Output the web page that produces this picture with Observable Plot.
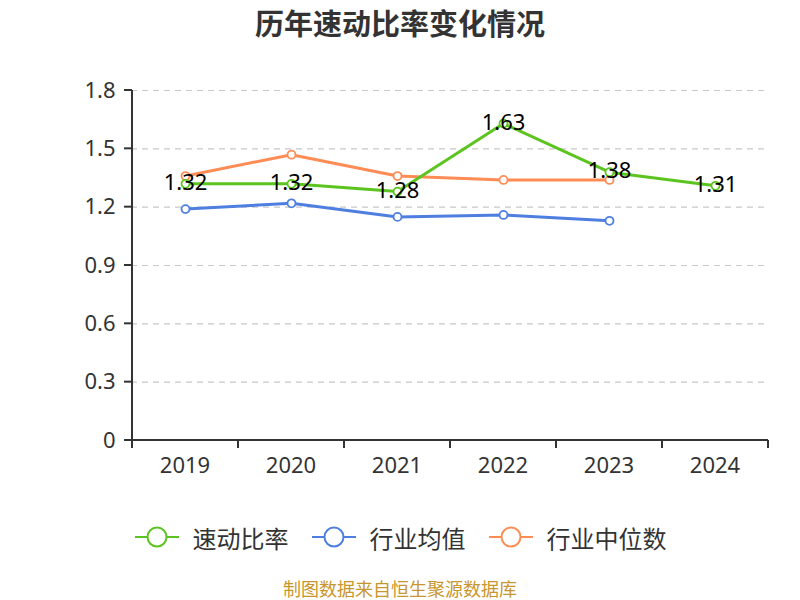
<!DOCTYPE html>
<html>
<head>
<meta charset="utf-8">
<script src="https://cdn.jsdelivr.net/npm/d3@7"></script>
<script src="https://cdn.jsdelivr.net/npm/@observablehq/plot@0.6"></script>
<style>
  body { margin: 0; background: #fff; font-family: "Noto Sans CJK SC", "Noto Sans", sans-serif; }
  #title { height: 50px; line-height: 44px; text-align: center; font-size: 29px; font-weight: bold; color: #333; }
  #legend { display: flex; justify-content: center; align-items: center; height: 62px; padding-top: 6px; font-size: 24px; color: #333; }
  .item { display: flex; align-items: center; margin: 0 11px; }
  .item svg { margin-right: 13px; }
  #caption { text-align: center; font-size: 18px; line-height: 20px; color: #c8962e; margin-top: 10px; }
</style>
</head>
<body>
<div id="title">历年速动比率变化情况</div>
<div id="chart"></div>
<div id="legend"></div>
<div id="caption">制图数据来自恒生聚源数据库</div>
<script>
const years = ["2019", "2020", "2021", "2022", "2023", "2024"];
const quickRatio = [1.32, 1.32, 1.28, 1.63, 1.38, 1.31];
const industryMean = [1.19, 1.22, 1.15, 1.16, 1.13];
const industryMedian = [1.36, 1.47, 1.36, 1.34, 1.34];
const yTicks = [0, 0.3, 0.6, 0.9, 1.2, 1.5, 1.8];
const seriesNames = ["速动比率", "行业均值", "行业中位数"];
const colors = ["#5cc41f", "#4e7fe0", "#ff8c55"];

const toRows = (vals, name) => vals.map((v, i) => ({year: years[i], value: v, series: name}));
const green = toRows(quickRatio, seriesNames[0]);
const blue = toRows(industryMean, seriesNames[1]);
const orange = toRows(industryMedian, seriesNames[2]);

const font = '"Noto Sans", "Noto Sans CJK SC", sans-serif';

const chart = Plot.plot({
  width: 800,
  height: 450,
  marginTop: 40,
  marginBottom: 60,
  marginLeft: 131,
  marginRight: 31,
  style: {fontFamily: font, fontSize: "20px", color: "#333", background: "#fff"},
  x: {type: "point", domain: years, padding: 0.5, axis: null},
  y: {domain: [0, 1.8], ticks: yTicks, axis: null},
  marks: [
    Plot.ruleY(yTicks.filter(d => d > 0), {stroke: "#c8c8c8", strokeWidth: 1.2, strokeDasharray: "6,5"}),
    Plot.line(blue, {x: "year", y: "value", stroke: colors[1], strokeWidth: 3}),
    Plot.dot(blue, {x: "year", y: "value", r: 4, fill: "#fff", stroke: colors[1], strokeWidth: 1.8}),
    Plot.line(orange, {x: "year", y: "value", stroke: colors[2], strokeWidth: 3}),
    Plot.dot(orange, {x: "year", y: "value", r: 4, fill: "#fff", stroke: colors[2], strokeWidth: 1.8}),
    Plot.line(green, {x: "year", y: "value", stroke: colors[0], strokeWidth: 3}),
    Plot.dot(green, {x: "year", y: "value", r: 4, fill: "#fff", stroke: colors[0], strokeWidth: 1.8}),
    Plot.text(green, {x: "year", y: "value", text: d => d.value.toFixed(2), fill: "#000", fontSize: 22, dy: -1}),
    Plot.text(yTicks, {x: () => years[0], y: d => d, text: d => String(d), textAnchor: "end", dx: -70, fill: "#333", fontSize: 22})
  ]
});
document.getElementById("chart").appendChild(chart);

// axes drawn with the plot's scales
const xs = chart.scale("x"), ys = chart.scale("y");
const step = xs.apply(years[1]) - xs.apply(years[0]);
const svg = d3.select(chart);
const g = svg.append("g").attr("stroke", "#333").attr("stroke-width", 2);
const x0 = xs.apply(years[0]) - step / 2;
const x1 = xs.apply(years[years.length - 1]) + step / 2;
const yTop = ys.apply(1.8), yBot = ys.apply(0);
g.append("line").attr("x1", x0).attr("x2", x0).attr("y1", yTop).attr("y2", yBot + 8);
g.append("line").attr("x1", x0).attr("x2", x1).attr("y1", yBot).attr("y2", yBot);
yTicks.forEach(t => g.append("line").attr("x1", x0 - 8).attr("x2", x0).attr("y1", ys.apply(t)).attr("y2", ys.apply(t)));
for (let i = 0; i <= years.length; i++) {
  const xp = x0 + i * step;
  g.append("line").attr("x1", xp).attr("x2", xp).attr("y1", yBot).attr("y2", yBot + 8);
}
const lab = svg.append("g").attr("fill", "#333").attr("font-size", 22).attr("font-family", font).attr("text-anchor", "middle");
years.forEach(y => lab.append("text").attr("x", xs.apply(y)).attr("y", yBot + 33).text(y));

// legend
const legend = document.getElementById("legend");
seriesNames.forEach((n, i) => {
  const it = document.createElement("div");
  it.className = "item";
  it.innerHTML = `<svg width="46" height="24"><line x1="1" x2="45" y1="12" y2="12" stroke="${colors[i]}" stroke-width="2"/><circle cx="23" cy="12" r="9.5" fill="#fff" stroke="${colors[i]}" stroke-width="2"/></svg><span>${n}</span>`;
  legend.appendChild(it);
});
</script>
</body>
</html>
